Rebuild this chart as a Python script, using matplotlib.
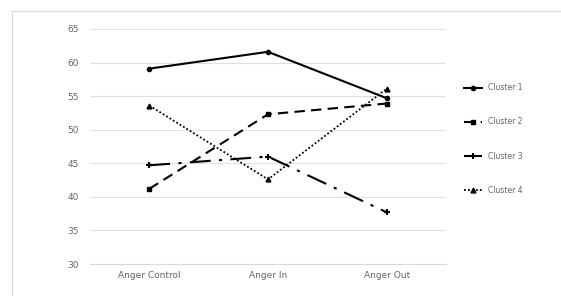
import matplotlib
matplotlib.use("Agg")
import matplotlib.pyplot as plt
from matplotlib.lines import Line2D

categories = ["Anger Control", "Anger In", "Anger Out"]
cluster1 = [59.1, 61.6, 54.7]
cluster2 = [41.2, 52.3, 53.9]
cluster3 = [44.7, 46.0, 37.7]
cluster4 = [53.6, 42.6, 56.1]
yticks = [30, 35, 40, 45, 50, 55, 60, 65]

fig = plt.figure(figsize=(5.61, 2.96), dpi=100)
# light frame: only the top and left edges show in the crop
top = 1 - 10.5 / 296
left = 11.5 / 561
fig.add_artist(Line2D([left, 1.0], [top, top], transform=fig.transFigure, color="#d9d9d9", linewidth=0.8))
fig.add_artist(Line2D([left, left], [0.0, top], transform=fig.transFigure, color="#d9d9d9", linewidth=0.8))

ax = fig.add_axes([90 / 561, 1 - 264 / 296, 356 / 561, 235 / 296])

x = range(len(categories))
ax.plot(x, cluster1, color="black", linestyle="-", linewidth=1.5, marker="o", markersize=3, label="Cluster 1")
ax.plot(x, cluster2, color="black", linestyle=(0, (5, 3)), linewidth=1.5, marker="s", markersize=3.5, label="Cluster 2")
ax.plot(x, cluster3, color="black", linestyle=(0, (10, 4, 1.5, 4)), linewidth=1.5, marker="+", markersize=4,
        markeredgewidth=1.5, label="Cluster 3")
ax.plot(x, cluster4, color="black", linestyle=(0, (1, 1.2)), linewidth=1.3, marker="^", markersize=3.5, label="Cluster 4")

ax.set_xlim(-0.5, 2.5)
ax.set_ylim(30, 65)
ax.set_yticks(yticks)
ax.set_xticks(list(x))
ax.set_xticklabels(categories)
ax.grid(axis="y", color="#e0e0e0", linewidth=0.8)
ax.set_axisbelow(True)
for s in ["top", "right", "left"]:
    ax.spines[s].set_visible(False)
ax.spines["bottom"].set_color("#d9d9d9")
ax.tick_params(length=0, labelsize=6.5, labelcolor="#666666", pad=8)
ax.tick_params(axis="x", pad=5)

leg = ax.legend(loc="center left", bbox_to_anchor=(457 / 561, 1 - 139 / 296), bbox_transform=fig.transFigure,
                frameon=False, fontsize=5.5, labelcolor="#666666", handlelength=2.4, labelspacing=3.3,
                handletextpad=0.8)

fig.savefig("out.png", dpi=100)
